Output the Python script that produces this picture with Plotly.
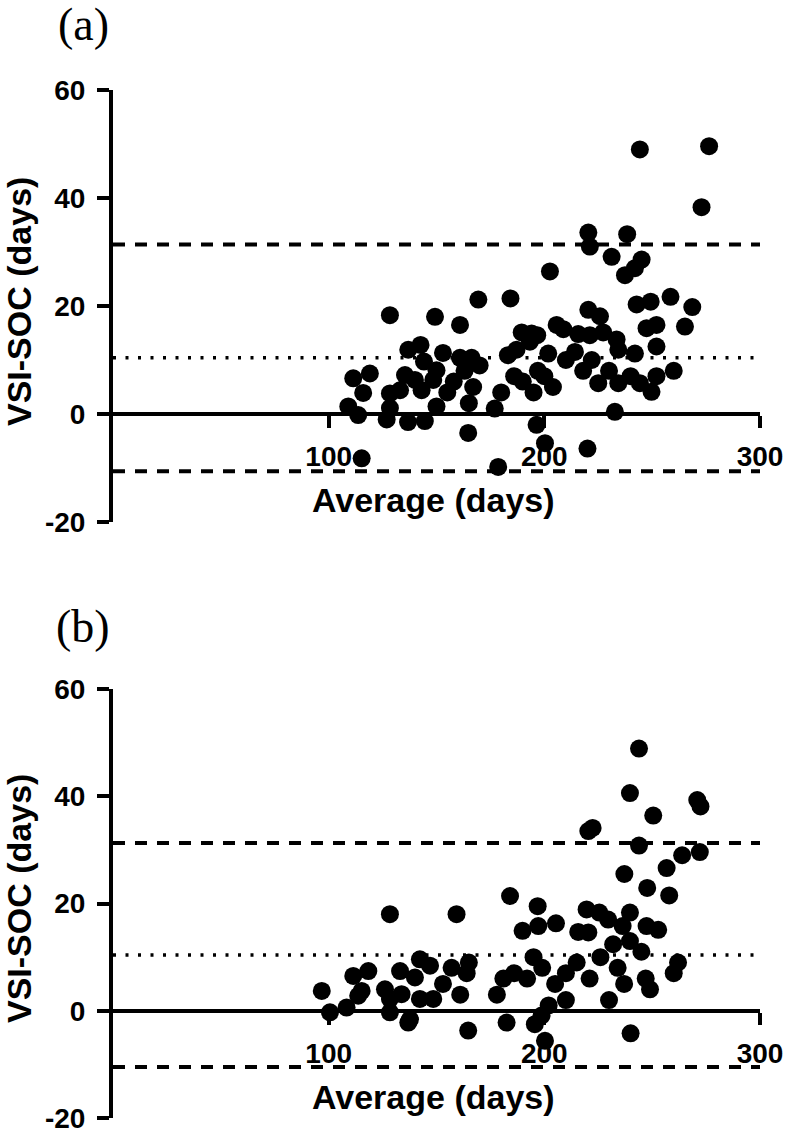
import plotly.graph_objects as go

# ---------------- data ----------------
a_avg = [109.1, 113.7, 111.4, 119.1, 116.0, 115.3, 128.4, 136.9, 142.6, 144.2, 149.3, 128.4, 128.4, 126.9,
         135.4, 140.0, 136.8, 144.6, 143.1, 133.1, 148.5, 150.0, 150.0, 164.7, 196.4, 200.3, 178.6, 220.0,
         232.7, 225.0, 234.3, 244.3, 249.7, 244.3, 276.4, 272.9, 220.4, 221.1, 238.4, 231.2, 245.1, 242.0,
         237.4, 202.6, 169.4, 184.3, 160.9, 242.8, 249.3, 258.5, 268.6, 265.2, 247.4, 252.0, 252.0, 220.4,
         225.8, 189.5, 194.1, 196.7, 193.3, 205.7, 208.8, 215.7, 221.1, 227.3, 233.5, 234.3, 242.0, 214.2,
         201.8, 187.1, 183.1, 153.0, 160.9, 166.3, 155.0, 158.0, 163.0, 165.0, 167.0, 177.0, 180.0, 186.0,
         190.0, 195.0, 197.0, 200.0, 204.0, 210.0, 218.0, 222.0, 230.0, 240.0, 252.0, 260.0, 170.0]
a_diff = [1.4, -0.2, 6.6, 7.5, 3.9, -8.2, 18.3, 11.9, 12.8, 9.7, 18.0, 3.8, 1.1, -1.0,
          7.2, 6.3, -1.5, -1.3, 4.4, 4.4, 6.3, 8.1, 1.4, -3.5, -2.0, -5.4, -9.8, -6.4,
          0.4, 5.7, 5.7, 5.7, 4.1, 49.0, 49.6, 38.3, 33.6, 31.0, 33.3, 29.1, 28.6, 27.0,
          25.7, 26.4, 21.2, 21.4, 16.5, 20.3, 20.8, 21.7, 19.8, 16.2, 15.9, 16.5, 12.5, 19.3,
          18.1, 15.1, 14.9, 14.6, 13.4, 16.5, 15.7, 14.8, 14.6, 15.1, 13.8, 11.9, 11.2, 11.5,
          11.2, 11.9, 10.9, 11.3, 10.4, 10.4, 4.0, 6.0, 8.0, 2.0, 5.0, 1.0, 4.0, 7.0,
          6.0, 4.0, 8.0, 7.0, 5.0, 10.0, 8.0, 10.0, 8.0, 7.0, 7.0, 8.0, 9.0]

b_avg = [243.9, 239.7, 250.5, 270.9, 272.4, 220.4, 222.4, 243.9, 263.9, 272.1, 256.7, 237.1, 247.7, 257.9,
         184.1, 159.3, 196.9, 189.9, 197.2, 205.4, 215.7, 220.4, 219.6, 225.5, 229.6, 236.3, 239.7, 247.4,
         252.8, 239.7, 231.9, 128.4, 96.8, 100.6, 108.3, 111.4, 118.4, 115.3, 113.7, 126.1, 128.4, 133.1,
         137.7, 142.3, 140.0, 133.8, 142.3, 147.0, 148.5, 128.4, 136.9, 164.7, 182.5, 195.6, 200.3, 198.7,
         240.0, 153.0, 157.0, 161.0, 164.0, 165.0, 178.0, 181.0, 186.0, 192.0, 195.0, 199.0, 202.0, 205.0,
         210.0, 215.0, 221.0, 226.0, 234.0, 237.0, 245.0, 247.0, 249.0, 260.0, 262.0, 230.0, 210.0]
b_diff = [48.9, 40.6, 36.4, 39.3, 38.1, 33.5, 34.1, 30.8, 29.0, 29.6, 26.6, 25.5, 22.9, 21.5,
          21.4, 18.0, 19.5, 14.9, 15.8, 16.3, 14.7, 14.6, 18.9, 18.3, 17.0, 15.8, 18.3, 15.8,
          15.1, 13.0, 12.4, 18.0, 3.7, -0.3, 0.6, 6.5, 7.4, 3.7, 2.8, 4.0, -0.3, 7.4,
          -1.6, 9.6, 6.2, 3.1, 2.2, 8.4, 2.2, 2.2, -2.2, -3.7, -2.2, -2.5, -5.6, -0.9,
          -4.2, 5.0, 8.0, 3.0, 7.0, 9.0, 3.0, 6.0, 7.0, 6.0, 10.0, 8.0, 1.0, 5.0,
          7.0, 9.0, 6.0, 10.0, 8.0, 5.0, 11.0, 6.0, 4.0, 7.0, 9.0, 2.0, 2.0]

# Bland-Altman bias and limits of agreement
bias = [10.4, 10.4]
upper_loa = [31.4, 31.3]
lower_loa = [-10.6, -10.5]
line_x = [0, 300]

x_ticks = [100, 200, 300]
x_tick_text = ["100", "200", "300"]
y_ticks = [-20, 0, 20, 40, 60]
y_tick_text = ["-20", "0", "20", "40", "60"]

# ---------------- figure ----------------
W, H = 787, 1137
fig = go.Figure()

panels = [
    dict(x=a_avg, y=a_diff, xa="x", ya="y", k=0),
    dict(x=b_avg, y=b_diff, xa="x2", ya="y2", k=1),
]
for p in panels:
    k = p["k"]
    fig.add_trace(go.Scatter(x=line_x, y=[upper_loa[k]] * 2, mode="lines", xaxis=p["xa"], yaxis=p["ya"],
                             line=dict(color="black", width=4, dash="12px,10px"), showlegend=False, hoverinfo="skip"))
    fig.add_trace(go.Scatter(x=line_x, y=[lower_loa[k]] * 2, mode="lines", xaxis=p["xa"], yaxis=p["ya"],
                             line=dict(color="black", width=4, dash="12px,10px"), showlegend=False, hoverinfo="skip"))
    fig.add_trace(go.Scatter(x=line_x, y=[bias[k]] * 2, mode="lines", xaxis=p["xa"], yaxis=p["ya"],
                             line=dict(color="black", width=3.5, dash="3px,9.5px"), showlegend=False, hoverinfo="skip"))
    fig.add_trace(go.Scatter(x=p["x"], y=p["y"], mode="markers", xaxis=p["xa"], yaxis=p["ya"],
                             marker=dict(color="black", size=18, line=dict(width=0)),
                             cliponaxis=False, showlegend=False))

def py(pix):
    return 1 - pix / H

tickfont = dict(family="Liberation Sans, Arial, sans-serif", size=28, color="black", weight="bold")
xdom = [113 / W, 760 / W]

common_x = dict(range=[0, 300], tickvals=x_ticks, ticktext=x_tick_text, showline=True, linewidth=4,
                linecolor="black", ticks="outside", ticklen=12, tickwidth=4, tickcolor="black",
                showgrid=False, zeroline=False, tickfont=tickfont, ticklabelstandoff=4, anchor="free",
                domain=xdom, fixedrange=True, automargin=False, ticklabeloverflow="allow")
common_y = dict(range=[-20, 60], tickvals=y_ticks, ticktext=y_tick_text, showline=True, linewidth=4,
                linecolor="black", ticks="outside", ticklen=12, tickwidth=4, tickcolor="black",
                showgrid=False, zeroline=False, tickfont=tickfont, ticklabelstandoff=6, fixedrange=True,
                automargin=False, ticklabeloverflow="allow")

# panel b pixel frame (zero line, top 60, bottom -20)
b_zero, b_top, b_bot = 1011, 689, 1118

fig.update_layout(
    width=W, height=H, margin=dict(l=0, r=0, t=0, b=0, autoexpand=False),
    paper_bgcolor="white", plot_bgcolor="white",
    xaxis=dict(**common_x, position=py(414)),
    yaxis=dict(**common_y, anchor="x", domain=[py(522), py(90)]),
    xaxis2=dict(**common_x, position=py(b_zero)),
    yaxis2=dict(**common_y, anchor="x2", domain=[py(b_bot), py(b_top)]),
)

titlefont = dict(family="Liberation Sans, Arial, sans-serif", size=34, color="black", weight="bold")
labelfont = dict(family="Liberation Serif, Times New Roman, serif", size=46, color="black")
for zero_pix, panel_lab, lab_y in [(414, "(a)", 25), (b_zero, "(b)", 626)]:
    fig.add_annotation(text="Average (days)", x=433 / W, y=py(zero_pix + 86), xref="paper", yref="paper",
                       xanchor="center", yanchor="middle", showarrow=False, font=titlefont)
    fig.add_annotation(text="VSI-SOC (days)", x=19 / W, y=py(zero_pix - 112), xref="paper", yref="paper",
                       xanchor="center", yanchor="middle", textangle=-90, showarrow=False, font=titlefont)
    fig.add_annotation(text=panel_lab, x=83 / W, y=py(lab_y), xref="paper", yref="paper",
                       xanchor="center", yanchor="middle", showarrow=False, font=labelfont)

fig.write_html("out.html", config={"displayModeBar": False, "staticPlot": True},
               post_script="document.body.style.margin='0';document.body.style.overflow='hidden';")
